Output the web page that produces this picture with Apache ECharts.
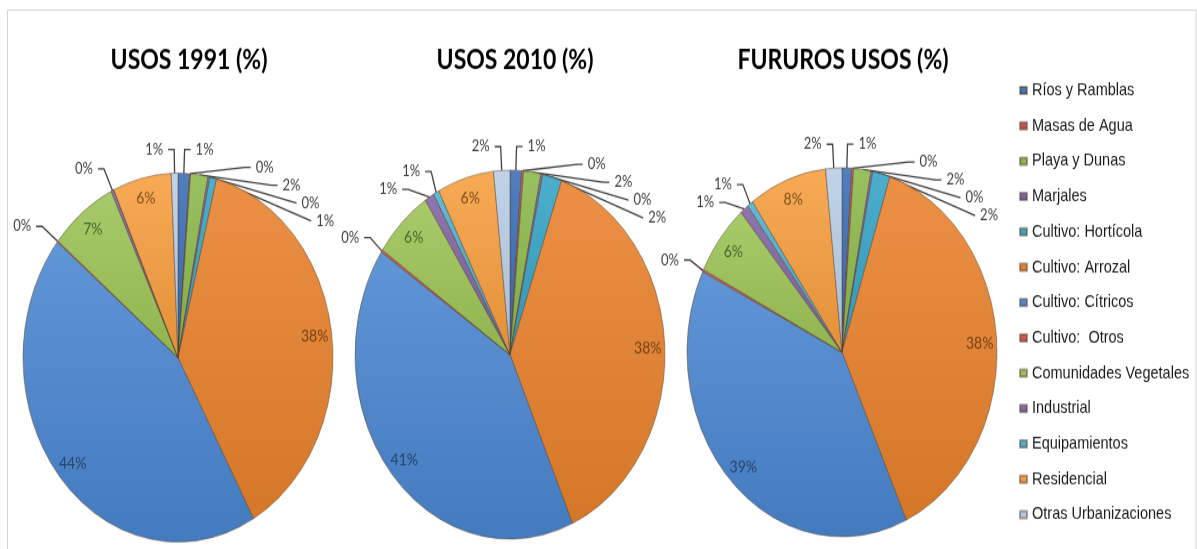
<!DOCTYPE html>
<html>
<head>
<meta charset="utf-8">
<script src="https://cdn.jsdelivr.net/npm/echarts@6/dist/echarts.min.js"></script>
<style>
  html, body { margin: 0; padding: 0; background: #fff; }
  #wrap { width: 1197px; height: 549px; overflow: hidden; background: #fff; }
  /* charts are drawn on a squeezed canvas and stretched vertically, giving tall elliptical pies */
  #chart { width: 1197px; transform-origin: 0 0; }
</style>
</head>
<body>
<div id="wrap"><div id="chart"></div></div>
<script>
// Land-use categories, in slice order (clockwise from 12 o'clock)
const categories = [
  'Ríos y Ramblas', 'Masas de Agua', 'Playa y Dunas', 'Marjales',
  'Cultivo: Hortícola', 'Cultivo: Arrozal', 'Cultivo: Cítricos', 'Cultivo:  Otros',
  'Comunidades Vegetales', 'Industrial', 'Equipamientos', 'Residencial',
  'Otras Urbanizaciones'
];

// Share of each use (%)
const usos1991 = [1.2, 0.1, 1.8, 0.2, 0.7, 37.9, 43.9, 0.1, 7.0, 0.3, 0, 6.1, 0.7];
const usos2010 = [1.2, 0.2, 1.8, 0.2, 2.0, 38.0, 41.0, 0.2, 6.2, 1.0, 0.6, 5.9, 1.7];
const usosFuturos = [1.0, 0.2, 1.8, 0.2, 1.8, 38.2, 39.0, 0.2, 6.3, 0.9, 0.6, 8.1, 1.7];

const titles = ['USOS 1991 (%)', 'USOS 2010 (%)', 'FURUROS USOS (%)'];

const sliceColors = [
  '#3A6DB5', '#C0504D', '#8CB84A', '#7B5BA4',
  '#35A3C6', '#E8812C', '#4A86D0', '#CF514E',
  '#9CC456', '#8064A2', '#4BB0CF', '#F79E3E',
  '#B9CDE5'
];

const STRETCH = 1.19;
const W = 1197, H = 549 / STRETCH;

const el = document.getElementById('chart');
el.style.height = H + 'px';
el.style.transform = 'scaleY(' + STRETCH + ')';

function shade(hex, f) {
  const n = parseInt(hex.slice(1), 16);
  let r = (n >> 16) & 255, g = (n >> 8) & 255, b = n & 255;
  const t = f < 0 ? 0 : 255, p = Math.abs(f);
  r = Math.round((t - r) * p + r);
  g = Math.round((t - g) * p + g);
  b = Math.round((t - b) * p + b);
  return 'rgb(' + r + ',' + g + ',' + b + ')';
}

function fill(hex) {
  return new echarts.graphic.LinearGradient(0, 0, 0, 1, [
    { offset: 0, color: shade(hex, 0.12) },
    { offset: 1, color: shade(hex, -0.08) }
  ]);
}

const pct = p => Math.round(p.value) + '%';
const R = 155;

function pieSeries(values, center) {
  const small = v => v > 0 && v < 3;
  const main = {
    type: 'pie',
    radius: R,
    center: center,
    startAngle: 90,
    clockwise: true,
    avoidLabelOverlap: true,
    minShowLabelAngle: 0,
    emphasis: { disabled: true },
    itemStyle: { borderColor: 'rgba(80,55,35,0.45)', borderWidth: 1 },
    label: {
      position: 'outside', formatter: pct, color: '#404040',
      fontFamily: 'Lato', fontSize: 13, overflow: 'none'
    },
    labelLine: {
      length: 20, length2: 6,
      lineStyle: { color: '#404040', width: 1.3 }
    },
    data: values.map((v, i) => ({
      name: categories[i], value: v,
      itemStyle: { color: fill(sliceColors[i]) },
      label: { show: small(v) },
      labelLine: { show: small(v) }
    }))
  };
  // label ring for the larger slices, set near the rim of each slice
  const rim = {
    type: 'pie',
    radius: [0, R * 1.74],
    center: center,
    startAngle: 90,
    clockwise: true,
    silent: true,
    legendHoverLink: false,
    emphasis: { disabled: true },
    itemStyle: { color: 'rgba(0,0,0,0)', borderWidth: 0 },
    label: { position: 'inside', formatter: pct, fontFamily: 'Lato', fontSize: 14 },
    labelLine: { show: false },
    data: values.map((v, i) => ({
      name: categories[i], value: v,
      label: { show: v >= 3, color: shade(sliceColors[i], -0.5), textBorderWidth: 0 }
    }))
  };
  return [main, rim];
}

const chart = echarts.init(el, null, { renderer: 'canvas', width: W, height: H });

const titleX = [184, 510, 838];

chart.setOption({
  animation: false,
  backgroundColor: '#fff',
  title: titles.map((t, i) => ({
    text: t, left: titleX[i], top: 34, textAlign: 'center',
    textStyle: { fontFamily: 'Lato', fontWeight: 'bold', fontSize: 23, color: '#000' }
  })),
  legend: {
    orient: 'vertical',
    left: 1014, top: 63,
    icon: 'rect', itemWidth: 7, itemHeight: 6,
    itemGap: 13.7,
    selectedMode: false,
    data: categories,
    textStyle: { fontFamily: 'Liberation Sans', fontSize: 14.5, color: '#1a1a1a', lineHeight: 16 }
  },
  graphic: [{
    type: 'rect', silent: true,
    shape: { x: 7.5, y: 8.5, width: 1188.5, height: 480 },
    style: { fill: 'none', stroke: '#d4d4d4', lineWidth: 1 }
  }],
  series: [
    ...pieSeries(usos1991, [178, 300.5]),
    ...pieSeries(usos2010, [510, 298]),
    ...pieSeries(usosFuturos, [842, 296])
  ]
});
</script>
</body>
</html>
